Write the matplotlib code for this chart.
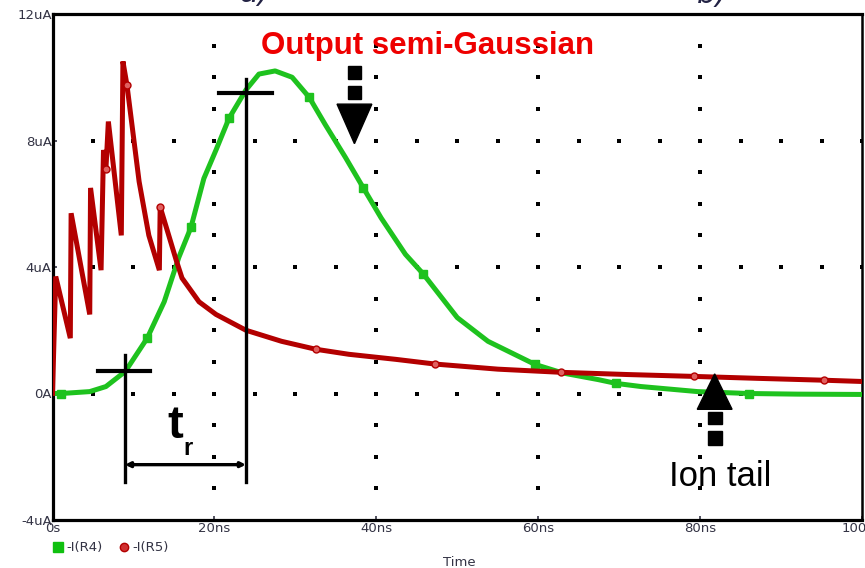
import numpy as np
import matplotlib
matplotlib.use("Agg")
import matplotlib.pyplot as plt
from matplotlib.patches import Polygon, Rectangle
from matplotlib.lines import Line2D

# ---------------- data (time in ns, current in uA) ----------------
green_t = [0, 1.1, 4.6, 6.6, 9, 11.7, 13.8, 15.6, 17.1, 18.7, 20.2, 21.8, 23.9, 25.5,
           27.5, 29.6, 31.7, 33.7, 36.2, 38.4, 40.6, 43.6, 45.8, 50, 53.8, 59.6, 63,
           67.4, 69.6, 72.7, 79.7, 86, 92, 100]
green_i = [0, 0.0, 0.06, 0.22, 0.7, 1.75, 2.9, 4.3, 5.25, 6.8, 7.7, 8.7, 9.6, 10.1,
           10.2, 10.0, 9.37, 8.5, 7.46, 6.5, 5.55, 4.4, 3.78, 2.4, 1.65, 0.92, 0.65,
           0.44, 0.32, 0.22, 0.06, 0.0, -0.02, -0.03]
green_marker_t = [1.1, 11.7, 17.1, 21.8, 31.7, 38.4, 45.8, 59.6, 69.6, 86]

red_t = [0, 0.4, 2.2, 2.3, 4.6, 4.7, 6.0, 6.3, 6.6, 6.9, 8.5, 8.7, 9.2, 10.7, 11.9,
         13.2, 13.3, 15.3, 16.0, 18.1, 20.2, 23.9, 28.3, 32.5, 36.6, 42.4, 47.3, 55,
         62.8, 71, 79.3, 87, 95.3, 100]
red_i = [0, 3.7, 1.75, 5.7, 2.5, 6.5, 3.9, 7.7, 7.1, 8.6, 5.0, 10.5, 9.75, 6.7, 5.0,
         3.9, 5.9, 4.2, 3.65, 2.9, 2.5, 2.0, 1.65, 1.4, 1.24, 1.08, 0.93, 0.77,
         0.67, 0.6, 0.54, 0.48, 0.42, 0.38]
red_marker_t = [6.6, 9.2, 13.3, 32.5, 47.3, 62.8, 79.3, 95.3]

x_ticks = [0, 20, 40, 60, 80, 100]
x_labels = ["0s", "20ns", "40ns", "60ns", "80ns", "100ns"]
y_ticks = [-4, 0, 4, 8, 12]
y_labels = ["-4uA", "0A", "4uA", "8uA", "12uA"]
series_names = ["-I(R4)", "-I(R5)"]

# rise time markers (10% and 90% points)
rise_start_t, rise_start_i = 8.95, 0.72
rise_end_t, rise_end_i = 23.9, 9.5

GREEN = "#1ec21e"
RED = "#b30000"

W, H = 865, 568
fig = plt.figure(figsize=(W / 100, H / 100), dpi=100)
ax = fig.add_axes([52.5 / W, 1 - 520 / H, (862 - 52.5) / W, (520 - 14) / H])
ax.set_xlim(0, 100)
ax.set_ylim(-4, 12)

# dotted grid
gx = np.arange(0, 100.1, 5)
gy = np.arange(-4, 12.1, 1)
for yv in [0, 4, 8]:
    ax.plot(gx[1:], np.full(len(gx) - 1, yv), ls="none", marker="s", ms=2.6,
            color="black", mew=0, zorder=1)
for xv in [20, 40, 60, 80]:
    ax.plot(np.full(len(gy) - 2, xv), gy[1:-1], ls="none", marker="s", ms=2.6,
            color="black", mew=0, zorder=1)

gm = [int(np.argmin(np.abs(np.array(green_t) - v))) for v in green_marker_t]
rm = [int(np.argmin(np.abs(np.array(red_t) - v))) for v in red_marker_t]

ax.plot(green_t, green_i, color=GREEN, lw=3.6, marker="s", ms=6, markevery=gm,
        solid_joinstyle="round", zorder=3)
ax.plot(red_t, red_i, color=RED, lw=3.6, marker="o", ms=5, mfc="#e06060",
        mec=RED, markevery=rm, solid_joinstyle="miter", zorder=3)

# rise-time construction
bottom_i = -2.8
ax.plot([rise_start_t - 3.35, rise_start_t + 3.05], [rise_start_i] * 2, color="black", lw=3, zorder=4)
ax.plot([rise_start_t] * 2, [rise_start_i + 0.5, bottom_i], color="black", lw=2.4, zorder=4)
ax.plot([rise_end_t - 3.3, rise_end_t + 3.2], [rise_end_i] * 2, color="black", lw=3, zorder=4)
ax.plot([rise_end_t] * 2, [rise_end_i + 0.46, bottom_i], color="black", lw=2.4, zorder=4)
ax.annotate("", xy=(rise_start_t, -2.25), xytext=(rise_end_t, -2.25),
            arrowprops=dict(arrowstyle="<|-|>", color="black", lw=2.4,
                            mutation_scale=7, shrinkA=0, shrinkB=0), zorder=4)
ax.text(14.2, -1.42, "t", fontsize=34, color="black", ha="left", va="baseline",
        family="Liberation Sans", fontweight="bold", zorder=5)
ax.text(16.2, -1.95, "r", fontsize=17, color="black", ha="left", va="baseline",
        family="Liberation Sans", fontweight="bold", zorder=5)

# down arrow (output semi-gaussian)
ax_x = 37.3
ax.add_patch(Rectangle((ax_x - 0.85, 9.93), 1.7, 0.42, color="black", zorder=5))
ax.add_patch(Rectangle((ax_x - 0.85, 9.30), 1.7, 0.42, color="black", zorder=5))
ax.add_patch(Polygon([[ax_x - 2.15, 9.15], [ax_x + 2.15, 9.15], [ax_x, 7.9]],
                     closed=True, color="black", zorder=5))
# up arrow (ion tail)
ux = 81.8
ax.add_patch(Polygon([[ux - 2.15, -0.5], [ux + 2.15, -0.5], [ux, 0.62]],
                     closed=True, color="black", zorder=5))
ax.add_patch(Rectangle((ux - 0.85, -0.98), 1.7, 0.38, color="black", zorder=5))
ax.add_patch(Rectangle((ux - 0.85, -1.62), 1.7, 0.42, color="black", zorder=5))

ax.text(46.3, 11.0, "Output semi-Gaussian", color="#ee0000", fontsize=22.5,
        fontweight="bold", ha="center", va="center", family="Liberation Sans", zorder=6)
ax.text(82.5, -2.92, "Ion tail", color="black", fontsize=25, ha="center",
        va="baseline", family="Liberation Sans", zorder=6)

# axes styling
ax.set_xticks(x_ticks)
ax.set_xticklabels(x_labels)
ax.set_yticks(y_ticks)
ax.set_yticklabels(y_labels)
ax.tick_params(axis="both", labelsize=9.5, length=3, width=1.2, direction="in",
               pad=1.5, colors="#333344")
ax.tick_params(axis="y", pad=0.5)
for s in ["left", "bottom", "top"]:
    ax.spines[s].set_linewidth(2.3)
ax.spines["right"].set_linewidth(1.8)

# legend at the bottom
fig.add_artist(Line2D([58 / W], [1 - 547 / H], marker="s", ms=7, color="#10c010",
                      ls="none", transform=fig.transFigure))
fig.text(66 / W, 1 - 547 / H, series_names[0], fontsize=9.5, va="center", ha="left",
         color="#333344")
fig.add_artist(Line2D([124 / W], [1 - 547 / H], marker="o", ms=6, color=RED,
                      mfc="#d03030", ls="none", transform=fig.transFigure))
fig.text(132 / W, 1 - 547 / H, series_names[1], fontsize=9.5, va="center", ha="left",
         color="#333344")
fig.text(459 / W, 1 - 563 / H, "Time", fontsize=9.5, ha="center", va="center",
         color="#333344")

# cropped panel captions at the very top
fig.text(240 / W, 1 - 2 / H, "a)", fontsize=22, color="#222244", ha="left",
         va="baseline", style="italic")
fig.text(697 / W, 1 - 3 / H, "b)", fontsize=22, color="#222244", ha="left",
         va="baseline", style="italic")

fig.savefig("out.png", dpi=100)
